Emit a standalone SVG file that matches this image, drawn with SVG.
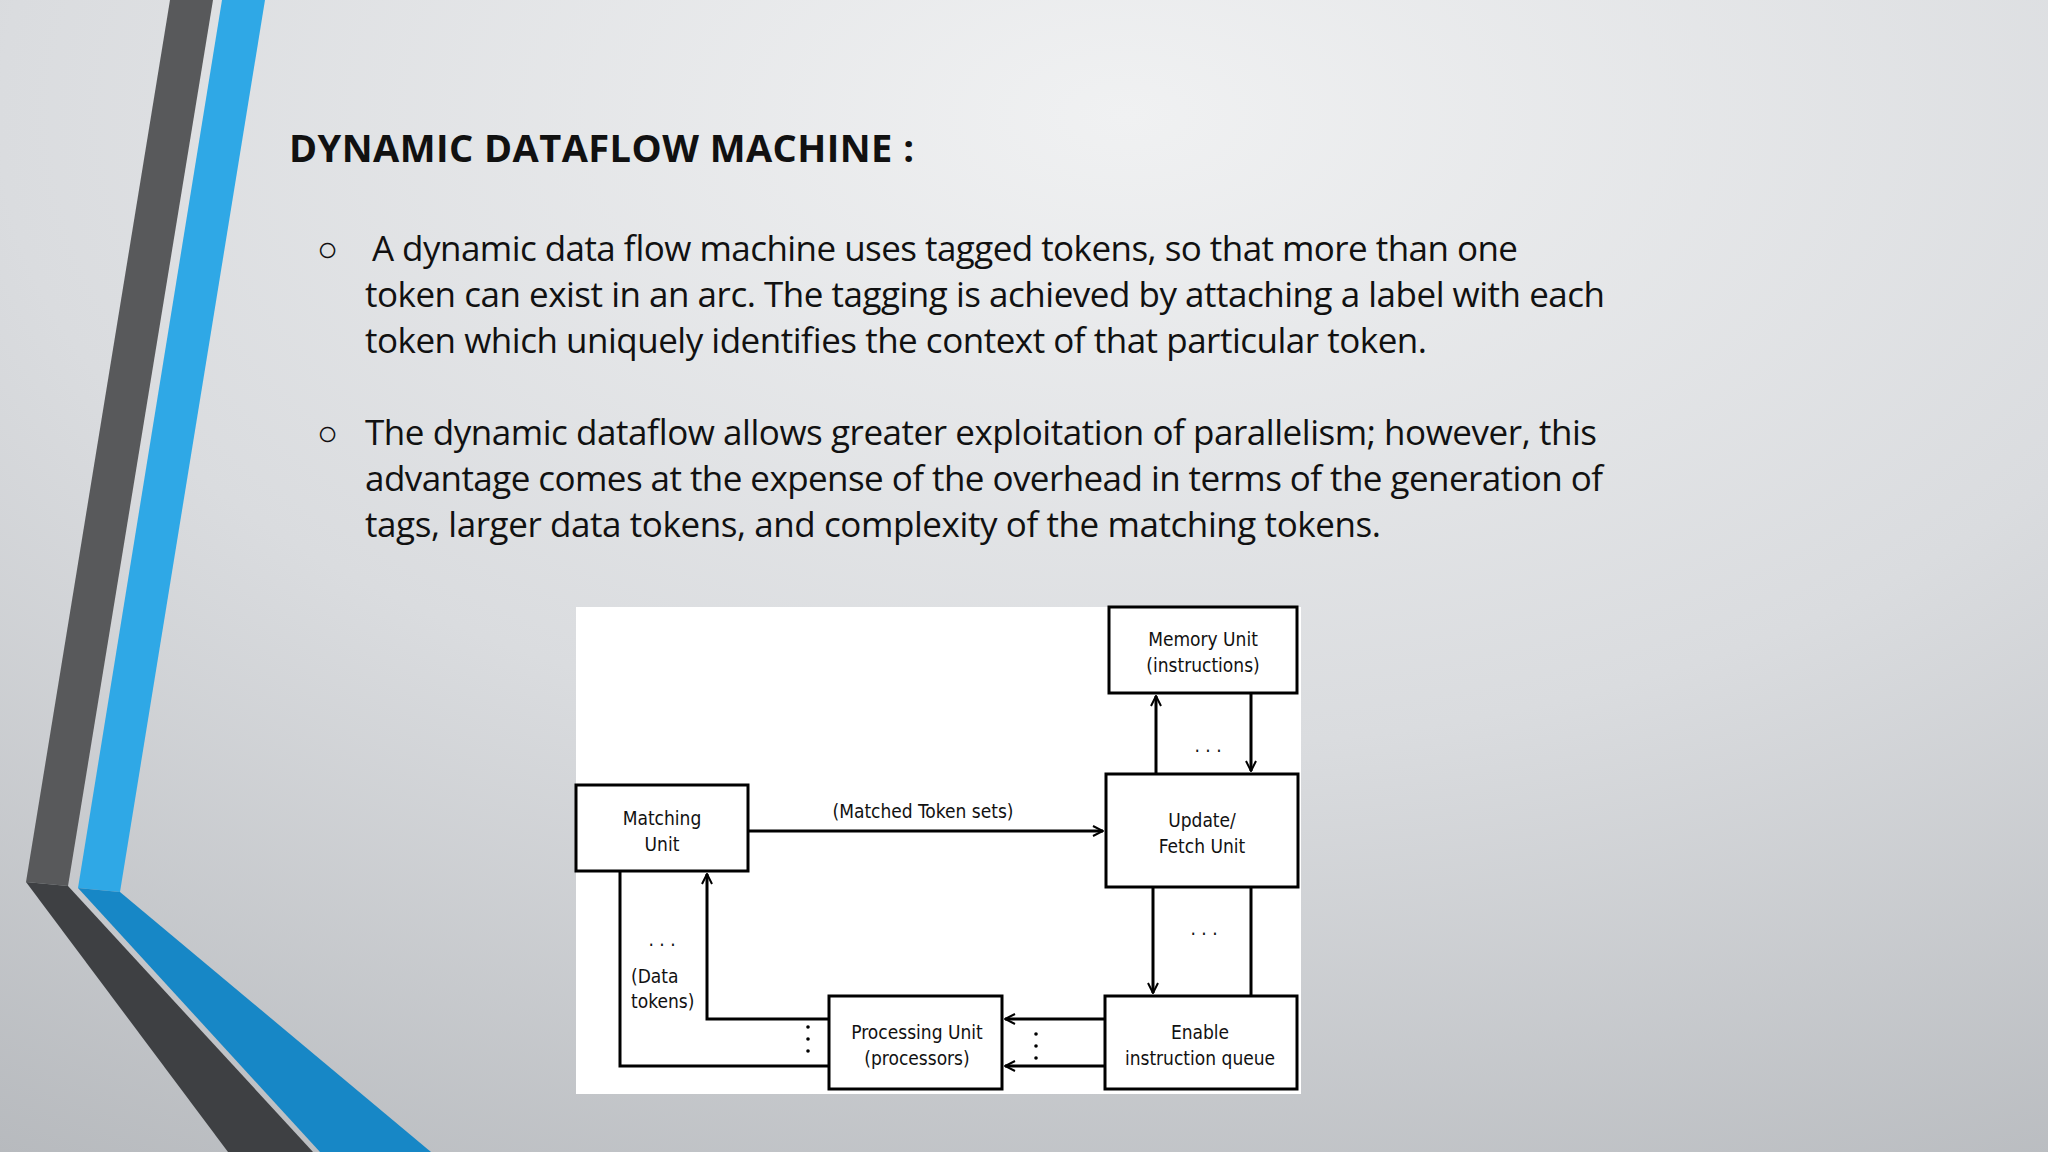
<svg xmlns="http://www.w3.org/2000/svg" width="2048" height="1152" viewBox="0 0 2048 1152">
<defs>
<radialGradient id="bg" cx="0.55" cy="0.1" r="1.1">
<stop offset="0" stop-color="#f0f1f2"/>
<stop offset="0.5" stop-color="#dadcdf"/>
<stop offset="1" stop-color="#b4b7bb"/>
</radialGradient>
<marker id="arr" viewBox="0 0 12 12" refX="11" refY="6" markerWidth="12" markerHeight="12" markerUnits="userSpaceOnUse" orient="auto">
<path d="M1,1 L11,6 L1,11" fill="none" stroke="#000" stroke-width="2"/>
</marker>
</defs>
<style>
.b{fill:#fff;stroke:#000;stroke-width:3}
.t{font-family:"DejaVu Sans Condensed","DejaVu Sans",sans-serif;font-size:19px;text-anchor:middle;fill:#111}
.l{fill:none;stroke:#000;stroke-width:3}
.p{font-family:"Open Sans","Liberation Sans",sans-serif;font-size:35px;fill:#111}
</style>
<rect width="2048" height="1152" fill="url(#bg)"/>
<polygon points="170,0 213,0 68,886 26,882" fill="#58595b"/>
<polygon points="26,882 68,886 313,1152 228,1152" fill="#3e4043"/>
<polygon points="222,0 265,0 120,892 78,888" fill="#2fa8e6"/>
<polygon points="78,888 120,892 431,1152 320,1152" fill="#1787c6"/>
<text x="289" y="162" font-family="'Open Sans','Liberation Sans',sans-serif" font-weight="bold" font-size="38" fill="#111" textLength="625">DYNAMIC DATAFLOW MACHINE :</text>
<g class="p">
<text x="317" y="261">○</text>
<text x="372" y="261" textLength="1146">A dynamic data flow machine uses tagged tokens, so that more than one</text>
<text x="365" y="307" textLength="1240">token can exist in an arc. The tagging is achieved by attaching a label with each</text>
<text x="365" y="353" textLength="1062">token which uniquely identifies the context of that particular token.</text>
<text x="317" y="445">○</text>
<text x="365" y="445" textLength="1232">The dynamic dataflow allows greater exploitation of parallelism; however, this</text>
<text x="365" y="491" textLength="1238">advantage comes at the expense of the overhead in terms of the generation of</text>
<text x="365" y="537" textLength="1016">tags, larger data tokens, and complexity of the matching tokens.</text>
</g>
<rect x="576" y="607" width="725" height="487" fill="#fff"/>
<g id="connectors">
<line class="l" x1="1156" y1="774" x2="1156" y2="696" marker-end="url(#arr)"/>
<line class="l" x1="1251" y1="693" x2="1251" y2="771" marker-end="url(#arr)"/>
<line class="l" x1="748" y1="831" x2="1103" y2="831" marker-end="url(#arr)"/>
<line class="l" x1="1153" y1="887" x2="1153" y2="993" marker-end="url(#arr)"/>
<line class="l" x1="1251" y1="887" x2="1251" y2="996"/>
<line class="l" x1="1105" y1="1019" x2="1005" y2="1019" marker-end="url(#arr)"/>
<line class="l" x1="1105" y1="1066" x2="1005" y2="1066" marker-end="url(#arr)"/>
<polyline class="l" points="829,1019 707,1019 707,874" marker-end="url(#arr)"/>
<polyline class="l" points="829,1066 620,1066 620,871"/>
<text class="t" x="923" y="818">(Matched Token sets)</text>
<text class="t" x="1208" y="752">. . .</text>
<text class="t" x="1204" y="935">. . .</text>
<text class="t" x="662" y="946">. . .</text>
<text class="t" x="631" y="983" text-anchor="start" style="text-anchor:start">(Data</text>
<text class="t" x="631" y="1008" style="text-anchor:start">tokens)</text>
<g fill="#000"><circle cx="808" cy="1027" r="1.8"/><circle cx="808" cy="1039" r="1.8"/><circle cx="808" cy="1051" r="1.8"/>
<circle cx="1036" cy="1034" r="1.8"/><circle cx="1036" cy="1046" r="1.8"/><circle cx="1036" cy="1058" r="1.8"/></g>
</g>
<g id="memory"><rect class="b" x="1109" y="607" width="188" height="86"/><text class="t" x="1203" y="646">Memory Unit</text><text class="t" x="1203" y="672">(instructions)</text></g>
<g id="update"><rect class="b" x="1106" y="774" width="192" height="113"/><text class="t" x="1202" y="827">Update/</text><text class="t" x="1202" y="853">Fetch Unit</text></g>
<g id="matching"><rect class="b" x="576" y="785" width="172" height="86"/><text class="t" x="662" y="825">Matching</text><text class="t" x="662" y="851">Unit</text></g>
<g id="processing"><rect class="b" x="829" y="996" width="173" height="93"/><text class="t" x="917" y="1039">Processing Unit</text><text class="t" x="917" y="1065">(processors)</text></g>
<g id="enable"><rect class="b" x="1105" y="996" width="192" height="93"/><text class="t" x="1200" y="1039">Enable</text><text class="t" x="1200" y="1065">instruction queue</text></g>
</svg>
